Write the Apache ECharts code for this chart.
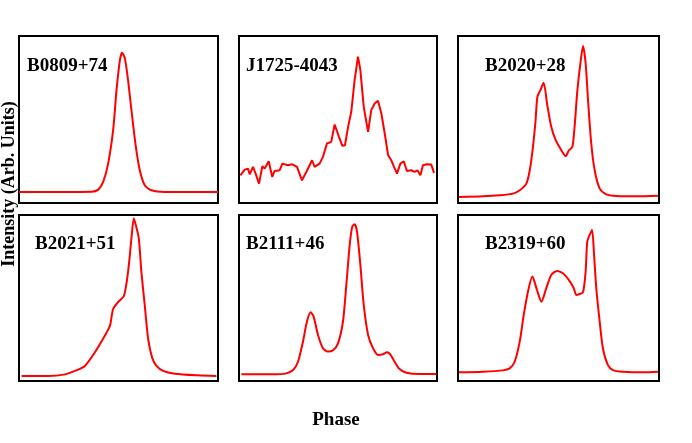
<!DOCTYPE html>
<html>
<head>
<meta charset="utf-8">
<script src="https://cdn.jsdelivr.net/npm/echarts@6/dist/echarts.min.js"></script>
<style>
  html, body { margin: 0; padding: 0; background: #fff; }
  #chart { width: 692px; height: 443px; }
</style>
</head>
<body>
<div id="chart"></div>
<script>
  // pulse profiles, [phase, normalised intensity]
  const names = ['B0809+74', 'J1725-4043', 'B2020+28', 'B2021+51', 'B2111+46', 'B2319+60']

  const B0809_74 = [
    [0, 0.066], [0.365, 0.068], [0.398, 0.08], [0.423, 0.126], [0.448, 0.236], [0.473, 0.436],
    [0.49, 0.676], [0.507, 0.856], [0.518, 0.9], [0.532, 0.866], [0.548, 0.736], [0.565, 0.556],
    [0.585, 0.356], [0.607, 0.196], [0.632, 0.106], [0.666, 0.076], [0.732, 0.066], [1, 0.066]
  ]
  const J1725_4043 = [
    [0.007, 0.166], [0.029, 0.2], [0.045, 0.206], [0.054, 0.172], [0.071, 0.216], [0.084, 0.176],
    [0.101, 0.116], [0.118, 0.22], [0.13, 0.206], [0.15, 0.25], [0.168, 0.156], [0.18, 0.192],
    [0.205, 0.196], [0.219, 0.236], [0.247, 0.226], [0.269, 0.232], [0.293, 0.216], [0.318, 0.136],
    [0.34, 0.186], [0.369, 0.256], [0.382, 0.216], [0.407, 0.236], [0.424, 0.276], [0.444, 0.356],
    [0.466, 0.366], [0.483, 0.47], [0.505, 0.396], [0.522, 0.342], [0.535, 0.346], [0.551, 0.456],
    [0.567, 0.546], [0.584, 0.736], [0.601, 0.876], [0.613, 0.796], [0.63, 0.576], [0.652, 0.426],
    [0.668, 0.556], [0.685, 0.596], [0.702, 0.612], [0.719, 0.536], [0.736, 0.416], [0.753, 0.286],
    [0.769, 0.256], [0.783, 0.216], [0.798, 0.176], [0.815, 0.236], [0.832, 0.25], [0.848, 0.192],
    [0.87, 0.196], [0.887, 0.186], [0.901, 0.196], [0.916, 0.166], [0.929, 0.226], [0.949, 0.232],
    [0.971, 0.23], [0.985, 0.18]
  ]
  const B2020_28 = [
    [0.005, 0.036], [0.124, 0.04], [0.207, 0.046], [0.274, 0.056], [0.307, 0.076], [0.34, 0.116],
    [0.357, 0.196], [0.373, 0.336], [0.386, 0.496], [0.395, 0.636], [0.41, 0.676], [0.426, 0.72],
    [0.443, 0.596], [0.464, 0.456], [0.486, 0.376], [0.509, 0.326], [0.536, 0.28], [0.552, 0.316],
    [0.569, 0.336], [0.58, 0.456], [0.594, 0.676], [0.609, 0.836], [0.622, 0.94], [0.635, 0.836],
    [0.648, 0.596], [0.663, 0.356], [0.68, 0.196], [0.705, 0.086], [0.738, 0.052], [0.788, 0.042],
    [0.887, 0.04], [0.995, 0.044]
  ]
  const B2021_51 = [
    [0.013, 0.03], [0.147, 0.03], [0.231, 0.04], [0.281, 0.061], [0.331, 0.091], [0.381, 0.172],
    [0.431, 0.273], [0.457, 0.333], [0.473, 0.434], [0.498, 0.475], [0.528, 0.515], [0.548, 0.657],
    [0.565, 0.859], [0.577, 0.98], [0.587, 0.939], [0.602, 0.859], [0.615, 0.657], [0.632, 0.455],
    [0.649, 0.253], [0.669, 0.141], [0.691, 0.091], [0.724, 0.061], [0.783, 0.044], [0.9, 0.034],
    [0.992, 0.03]
  ]
  const B2111_46 = [
    [0.012, 0.04], [0.172, 0.04], [0.239, 0.046], [0.273, 0.066], [0.298, 0.116], [0.323, 0.237],
    [0.343, 0.357], [0.362, 0.414], [0.377, 0.388], [0.399, 0.277], [0.424, 0.197], [0.449, 0.177],
    [0.475, 0.185], [0.5, 0.227], [0.525, 0.357], [0.542, 0.578], [0.559, 0.819], [0.572, 0.93],
    [0.584, 0.944], [0.596, 0.9], [0.613, 0.699], [0.63, 0.458], [0.652, 0.277], [0.677, 0.197],
    [0.702, 0.157], [0.727, 0.161], [0.747, 0.173], [0.764, 0.161], [0.786, 0.116], [0.811, 0.072],
    [0.845, 0.05], [0.912, 0.042], [0.997, 0.042]
  ]
  const B2319_60 = [
    [0.005, 0.052], [0.124, 0.056], [0.224, 0.064], [0.257, 0.076], [0.282, 0.116], [0.307, 0.237],
    [0.327, 0.398], [0.348, 0.538], [0.37, 0.629], [0.393, 0.548], [0.415, 0.478], [0.439, 0.558],
    [0.464, 0.639], [0.493, 0.663], [0.522, 0.649], [0.552, 0.608], [0.575, 0.562], [0.589, 0.518],
    [0.605, 0.524], [0.622, 0.534], [0.635, 0.659], [0.643, 0.839], [0.655, 0.88], [0.667, 0.91],
    [0.677, 0.759], [0.688, 0.558], [0.705, 0.357], [0.721, 0.197], [0.746, 0.096], [0.771, 0.066],
    [0.821, 0.056], [0.92, 0.052], [0.995, 0.056]
  ]

  const profiles = [B0809_74, J1725_4043, B2020_28, B2021_51, B2111_46, B2319_60]

  // panel boxes in px
  const cols = [[19, 199], [239, 198], [458, 201]]
  const rows = [[36, 167], [215, 166]]
  const labelLeft = [27, 246, 485, 35, 246, 485]

  const serif = "'Liberation Serif', 'Times New Roman', serif"

  const chart = echarts.init(document.getElementById('chart'))

  const grid = []
  const xAxis = []
  const yAxis = []
  const series = []
  const title = []
  profiles.forEach((data, i) => {
    const r = Math.floor(i / 3)
    const c = i % 3
    grid.push({
      left: cols[c][0], width: cols[c][1], top: rows[r][0], height: rows[r][1],
      show: true, borderColor: '#000', borderWidth: 2, backgroundColor: '#fff'
    })
    xAxis.push({
      type: 'value', gridIndex: i, min: 0, max: 1,
      axisLine: { show: false }, axisTick: { show: false }, axisLabel: { show: false }, splitLine: { show: false }
    })
    yAxis.push({
      type: 'value', gridIndex: i, min: 0, max: 1,
      axisLine: { show: false }, axisTick: { show: false }, axisLabel: { show: false }, splitLine: { show: false }
    })
    series.push({
      type: 'line', xAxisIndex: i, yAxisIndex: i, data: data,
      showSymbol: false, smooth: i === 1 ? false : 0.25,
      lineStyle: { color: '#ff0000', width: 2 }
    })
    title.push({
      text: names[i], left: labelLeft[i], top: r === 0 ? 57 : 235, padding: 0,
      textStyle: { fontFamily: serif, fontWeight: 'bold', fontSize: 19, color: '#000' }
    })
  })

  chart.setOption({
    animation: false,
    backgroundColor: '#fff',
    title: title,
    grid: grid,
    xAxis: xAxis,
    yAxis: yAxis,
    series: series,
    graphic: [
      {
        type: 'text', x: 9, y: 184, rotation: Math.PI / 2,
        style: {
          text: 'Intensity (Arb. Units)', align: 'center', verticalAlign: 'middle',
          font: "bold 18px 'Liberation Serif', 'Times New Roman', serif", fill: '#000'
        }
      },
      {
        type: 'text', x: 336, y: 420,
        style: {
          text: 'Phase', align: 'center', verticalAlign: 'middle',
          font: "bold 19px 'Liberation Serif', 'Times New Roman', serif", fill: '#000'
        }
      }
    ]
  })
</script>
</body>
</html>
